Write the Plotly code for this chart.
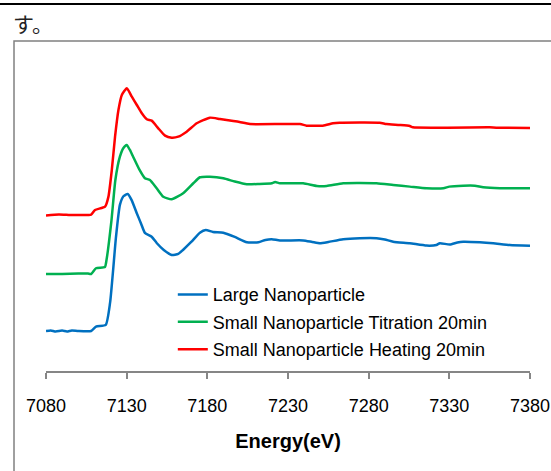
import plotly.graph_objects as go

# Normalized Fe K-edge XANES spectra (edge step = 1), each stacked by an offset
energy_large = [7080, 7083, 7086, 7090, 7093, 7096, 7100, 7108, 7111, 7117, 7119.7, 7123.4,
                7125.8, 7128, 7130.6, 7133, 7136.2, 7139, 7141.3, 7145.5, 7148.6, 7153,
                7157.9, 7162, 7164.9, 7170, 7175.4, 7179, 7183.5, 7189.9, 7197, 7204.5,
                7211.7, 7216, 7219.9, 7225, 7239.4, 7245, 7249.8, 7255, 7264.2, 7274.5,
                7284.9, 7290, 7295.2, 7305.5, 7315.9, 7322, 7324.1, 7330.3, 7335, 7338.6,
                7348.9, 7357.2, 7367.5, 7380]
mu_large = [0.0, 0.006, -0.006, 0.004, -0.006, 0.006, 0.0, 0.0, 0.047, 0.066, 0.308, 1.036,
            1.385, 1.48, 1.505, 1.44, 1.297, 1.176, 1.077, 1.036, 0.967, 0.89,
            0.835, 0.846, 0.89, 0.978, 1.08, 1.11, 1.088, 1.08, 1.033, 0.975,
            0.975, 1.0, 1.008, 0.995, 0.995, 0.978, 0.964, 0.978, 1.008, 1.019,
            1.019, 1.005, 0.981, 0.964, 0.938, 0.945, 0.964, 0.95, 0.973, 0.981,
            0.975, 0.964, 0.945, 0.937]

energy_titration = [7080, 7090, 7100, 7106, 7108, 7111, 7116.5, 7117.5, 7120.6, 7123, 7125.8,
                    7128, 7130, 7132, 7134, 7138, 7141.3, 7144.4, 7148.6, 7152.7, 7157.9,
                    7165, 7171.3, 7175.4, 7181.6, 7189.9, 7197, 7204.5, 7212, 7220, 7222,
                    7225, 7239.4, 7247.9, 7254, 7264.2, 7284.9, 7295.2, 7305.5, 7315.9,
                    7326.3, 7330, 7338.6, 7345.8, 7351, 7361.4, 7380]
mu_titration = [0.0, 0.0, 0.005, 0.005, 0.0, 0.063, 0.077, 0.154, 0.593, 1.033, 1.289,
                1.385, 1.418, 1.363, 1.289, 1.143, 1.052, 1.033, 0.942, 0.849, 0.821,
                0.887, 0.997, 1.063, 1.069, 1.052, 1.016, 0.986, 0.989, 0.997, 1.011,
                0.997, 0.997, 0.967, 0.967, 0.997, 0.997, 0.978, 0.96, 0.942,
                0.942, 0.96, 0.97, 0.97, 0.953, 0.942, 0.942]

energy_heating = [7080, 7088, 7095, 7100, 7108, 7110.4, 7116.6, 7118.7, 7120.8, 7122.8, 7124.9,
                  7127, 7130.1, 7133.2, 7136.3, 7139.4, 7142.5, 7145.5, 7149.6, 7153.8,
                  7157.9, 7162, 7167.2, 7173.4, 7181.6, 7187.8, 7196.1, 7200, 7206.4,
                  7237.4, 7241.5, 7251.6, 7257.9, 7262, 7286.8, 7291, 7299.2, 7305.5,
                  7307.4, 7355, 7359.1, 7380]
mu_heating = [0.0, 0.01, 0.005, 0.005, 0.01, 0.06, 0.097, 0.207, 0.5, 0.866, 1.159,
              1.324, 1.398, 1.305, 1.214, 1.123, 1.057, 1.042, 0.958, 0.877,
              0.855, 0.866, 0.921, 1.013, 1.075, 1.06, 1.038, 1.027, 1.005,
              1.005, 0.987, 0.987, 1.013, 1.02, 1.02, 1.005, 0.995, 0.984,
              0.969, 0.969, 0.965, 0.962]

series_names = ["Large Nanoparticle",
                "Small Nanoparticle Titration 20min",
                "Small Nanoparticle Heating 20min"]
series_colors = ["#0070C0", "#00B050", "#FF0000"]
series_offsets = [0.0, 0.626, 1.269]

x_ticks = [7080, 7130, 7180, 7230, 7280, 7330, 7380]

fig = go.Figure()
series = [(energy_large, mu_large), (energy_titration, mu_titration), (energy_heating, mu_heating)]
for i, ((e, mu), name, color, off) in enumerate(zip(series, series_names, series_colors, series_offsets)):
    fig.add_trace(go.Scatter(
        x=e, y=[v + off for v in mu], mode="lines", name=name,
        legendgroup=f"g{i}",
        line=dict(color=color, width=2.5, shape="spline", smoothing=0.5),
    ))

axis_gray = "#868686"
fig.update_layout(
    width=551, height=471,
    margin=dict(l=46, r=21, t=55, b=100),
    paper_bgcolor="white", plot_bgcolor="white",
    font=dict(family="Liberation Sans, Arial, sans-serif", color="black", size=18),
    showlegend=True,
    legend=dict(
        x=0.262, y=0.30, xanchor="left", yanchor="top",
        bgcolor="rgba(0,0,0,0)", borderwidth=0,
        font=dict(size=18, family="Liberation Sans, Arial, sans-serif"),
        tracegroupgap=1, traceorder="grouped",
        itemwidth=30,
    ),
    xaxis=dict(
        range=[7080, 7380], tickvals=x_ticks, ticktext=[str(t) for t in x_ticks],
        showgrid=False, zeroline=False,
        showline=True, linecolor=axis_gray, linewidth=1.5,
        ticks="outside", ticklen=6, tickwidth=1.5, tickcolor=axis_gray,
        tickfont=dict(size=18), ticklabelstandoff=12,
        title=dict(text="<b>Energy(eV)</b>", font=dict(size=20), standoff=19),
        automargin=False,
    ),
    yaxis=dict(range=[-0.44, 3.0325], visible=False, showgrid=False, zeroline=False),
    shapes=[
        # heavy rule across the top of the page
        dict(type="line", xref="paper", yref="paper",
             x0=-0.2, x1=1.2, y0=1.1614, y1=1.1614,
             line=dict(color="black", width=2)),
        # chart frame (left and top edges visible)
        dict(type="rect", xref="paper", yref="paper",
             x0=-0.0661, x1=1.1, y0=-0.4, y1=1.0443,
             line=dict(color="#808080", width=1.5), fillcolor="rgba(0,0,0,0)", layer="below"),
    ],
    annotations=[
        dict(text="す。", xref="paper", yref="paper", x=-0.0723, y=1.1013,
             xanchor="left", yanchor="middle", showarrow=False,
             font=dict(family="Noto Sans CJK JP", size=21, color="#222222")),
    ],
)

fig.write_html("out.html")
